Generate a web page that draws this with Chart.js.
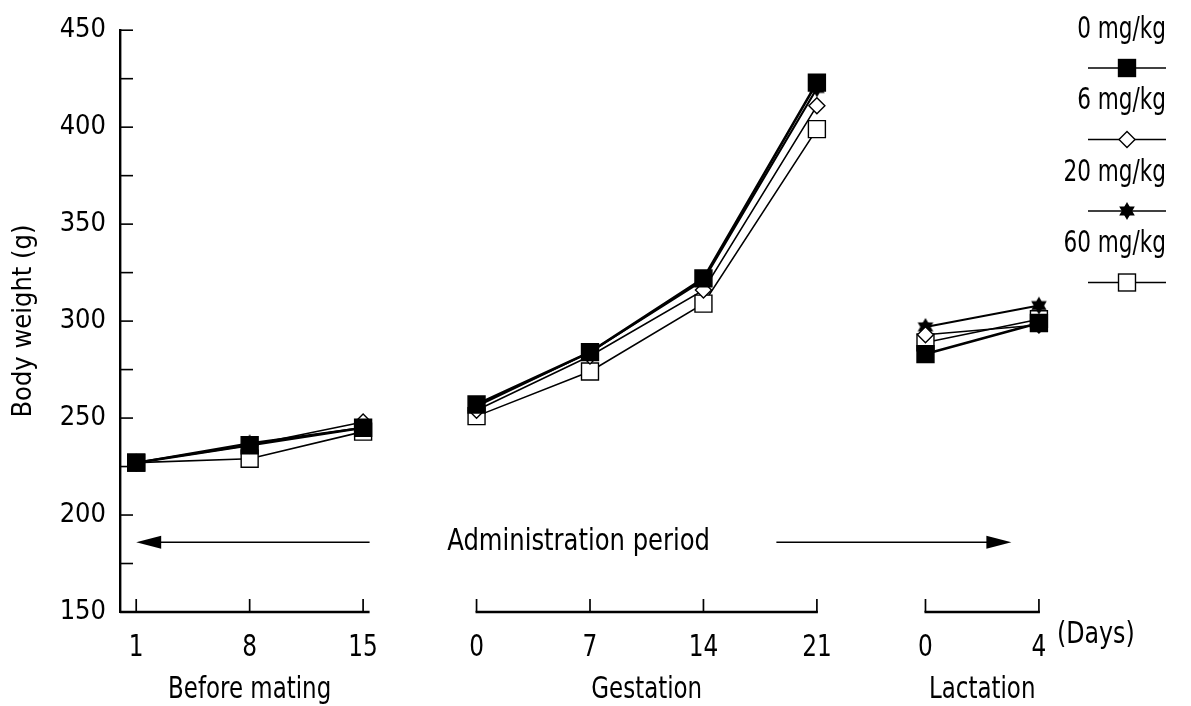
<!DOCTYPE html>
<html>
<head>
<meta charset="utf-8">
<script src="https://cdn.jsdelivr.net/npm/chart.js@4.4.1/dist/chart.umd.min.js"></script>
<style>
  html, body { margin: 0; padding: 0; background: #fff; }
  #wrap { width: 1191px; height: 706px; position: relative; }
</style>
</head>
<body>
<div id="wrap"><canvas id="chart" width="1191" height="706"></canvas></div>
<script>
const doses = ["0 mg/kg", "6 mg/kg", "20 mg/kg", "60 mg/kg"];
const phases = ["Before mating", "Gestation", "Lactation"];
const beforeDays = [1, 8, 15];
const gestDays = [0, 7, 14, 21];
const lactDays = [0, 4];
const yTicks = [150, 200, 250, 300, 350, 400, 450];

// body weight (g) per dose group, per phase
const before0 = [227, 236, 245];
const before6 = [227, 236, 248];
const before20 = [227, 237, 245];
const before60 = [227, 229, 243];
const gest0 = [257, 284, 322, 423];
const gest6 = [254, 282, 316, 411];
const gest20 = [256, 284, 321, 420];
const gest60 = [251, 274, 309, 399];
const lact0 = [283, 299];
const lact6 = [293, 298];
const lact20 = [297, 308];
const lact60 = [289, 301];

// layout of the broken x axis (axis units), not data
const phaseStart = [0, 22, 49.7];
const phaseStretch = [1, 1, 1.75];
const phaseAxisEnd = [15.4, null, null];
const FONT = "'Liberation Sans Narrow', 'DejaVu Sans Condensed', sans-serif";

const $ = (id) => document.getElementById(id);
const xOf = (p, d) => phaseStart[p] + d * phaseStretch[p];

function starCanvas(r) {
  const c = document.createElement("canvas");
  c.width = c.height = r * 2 + 2;
  const g = c.getContext("2d");
  const cx = r + 1, cy = r + 1;
  g.fillStyle = "#000";
  [-Math.PI / 2, Math.PI / 2].forEach(a0 => {
    g.beginPath();
    for (let k = 0; k < 3; k++) {
      const a = a0 + k * 2 * Math.PI / 3;
      g[k ? "lineTo" : "moveTo"](cx + r * Math.cos(a), cy + r * Math.sin(a));
    }
    g.closePath();
    g.fill();
  });
  return c;
}
const star = starCanvas(9);

function series(b, g, l) {
  const pts = [];
  beforeDays.forEach((d, i) => pts.push({ x: xOf(0, d), y: b[i] }));
  pts.push({ x: 18, y: null });
  gestDays.forEach((d, i) => pts.push({ x: xOf(1, d), y: g[i] }));
  pts.push({ x: 46, y: null });
  lactDays.forEach((d, i) => pts.push({ x: xOf(2, d), y: l[i] }));
  return pts;
}

const styles = [
  { pointStyle: "rect", pointRadius: 12, pointBackgroundColor: "#000", borderWidth: 2.6 },
  { pointStyle: "rectRot", pointRadius: 8, pointBackgroundColor: "#fff", borderWidth: 1.6 },
  { pointStyle: star, pointRadius: 9, pointBackgroundColor: "#000", borderWidth: 2 },
  { pointStyle: "rect", pointRadius: 12, pointBackgroundColor: "#fff", borderWidth: 1.6 }
];
const values = [
  series(before0, gest0, lact0),
  series(before6, gest6, lact6),
  series(before20, gest20, lact20),
  series(before60, gest60, lact60)
];

function drawMarker(ctx, st, x, y) {
  ctx.save();
  ctx.lineWidth = 1.4;
  ctx.strokeStyle = "#000";
  ctx.fillStyle = st.pointBackgroundColor;
  if (st.pointStyle === star) {
    ctx.drawImage(star, x - star.width / 2, y - star.height / 2);
  } else if (st.pointStyle === "rectRot") {
    const r = st.pointRadius;
    ctx.beginPath();
    ctx.moveTo(x, y - r); ctx.lineTo(x + r, y); ctx.lineTo(x, y + r); ctx.lineTo(x - r, y);
    ctx.closePath(); ctx.fill(); ctx.stroke();
  } else {
    const s = st.pointRadius * Math.SQRT1_2;
    ctx.fillRect(x - s, y - s, 2 * s, 2 * s);
    ctx.strokeRect(x - s, y - s, 2 * s, 2 * s);
  }
  ctx.restore();
}

// condensed text: squeeze horizontally
function label(ctx, s, x, y, align, sx) {
  ctx.save();
  ctx.translate(x, y);
  ctx.scale(sx, 1);
  ctx.textAlign = align;
  ctx.fillText(s, 0, 0);
  ctx.restore();
}

function arrow(ctx, x0, x1, y) {
  const dir = Math.sign(x1 - x0);
  ctx.beginPath();
  ctx.moveTo(x0, y); ctx.lineTo(x1 - dir * 20, y); ctx.stroke();
  ctx.beginPath();
  ctx.moveTo(x1, y); ctx.lineTo(x1 - dir * 25, y - 6.5); ctx.lineTo(x1 - dir * 25, y + 6.5);
  ctx.closePath(); ctx.fill();
}

const decorations = {
  id: "decorations",
  afterDraw(chart) {
    const { ctx, chartArea } = chart;
    const xs = chart.scales.x, ys = chart.scales.y;
    ctx.save();
    ctx.strokeStyle = "#000";
    ctx.fillStyle = "#000";
    ctx.textBaseline = "middle";

    // inner y ticks every 25 g
    ctx.lineWidth = 1.6;
    for (let v = 150; v <= 450; v += 25) {
      const y = ys.getPixelForValue(v);
      ctx.beginPath(); ctx.moveTo(chartArea.left, y); ctx.lineTo(chartArea.left + 13, y); ctx.stroke();
    }

    // broken x axis
    const yb = chartArea.bottom;
    const dayLists = [beforeDays, gestDays, lactDays];
    ctx.font = `30px ${FONT}`;
    dayLists.forEach((days, p) => {
      const first = xs.getPixelForValue(xOf(p, days[0]));
      const last = xs.getPixelForValue(xOf(p, days[days.length - 1]));
      const startX = p === 0 ? chartArea.left : first - 1;
      const endX = phaseAxisEnd[p] ? xs.getPixelForValue(phaseAxisEnd[p]) : last + 1;
      ctx.lineWidth = 2.4;
      ctx.beginPath(); ctx.moveTo(startX, yb); ctx.lineTo(endX, yb); ctx.stroke();
      ctx.lineWidth = 1.7;
      days.forEach(d => {
        const x = xs.getPixelForValue(xOf(p, d));
        ctx.beginPath(); ctx.moveTo(x, yb); ctx.lineTo(x, yb - 13); ctx.stroke();
        label(ctx, String(d), x, yb + 36, "center", 0.86);
      });
      label(ctx, phases[p], (first + last) / 2, yb + 78, "center", 0.85);
    });
    label(ctx, "(Days)", xs.getPixelForValue(xOf(2, 4)) + 18, yb + 23, "left", 0.88);

    // administration period arrows
    const ya = ys.getPixelForValue(186);
    ctx.lineWidth = 1.5;
    arrow(ctx, xs.getPixelForValue(15.4), xs.getPixelForValue(1), ya);
    arrow(ctx, xs.getPixelForValue(40.5), xs.getPixelForValue(55), ya);
    label(ctx, "Administration period", xs.getPixelForValue(28.3), ya, "center", 0.9);

    // legend at top right
    const lx = 1166;
    doses.forEach((name, i) => {
      const ty = 30 + i * 71.5;
      label(ctx, name, lx, ty, "right", 0.8);
      const sy = ty + 38;
      ctx.lineWidth = 1.4;
      ctx.beginPath(); ctx.moveTo(lx - 78, sy); ctx.lineTo(lx, sy); ctx.stroke();
      drawMarker(ctx, styles[i], lx - 39, sy);
    });
    ctx.restore();
  }
};

Chart.defaults.font.family = FONT;
Chart.defaults.color = "#000";

new Chart($("chart"), {
  type: "line",
  data: {
    datasets: doses.map((name, i) => ({
      label: name,
      data: values[i],
      borderColor: "#000",
      pointBorderColor: "#000",
      pointBorderWidth: 1.4,
      spanGaps: false,
      tension: 0,
      ...styles[i]
    }))
  },
  options: {
    responsive: false,
    animation: false,
    devicePixelRatio: 1,
    layout: { padding: { left: 0, top: 25, right: 131, bottom: 94 } },
    plugins: { legend: { display: false }, tooltip: { enabled: false } },
    scales: {
      x: { type: "linear", min: 0, max: 58, display: false },
      y: {
        min: 150,
        max: 450,
        afterFit: s => { s.width = 120; },
        afterBuildTicks: s => { s.ticks = yTicks.map(v => ({ value: v })); },
        grid: { display: false, drawTicks: false },
        border: { display: true, color: "#000", width: 2.4 },
        ticks: { font: { size: 27 }, padding: 14, color: "#000" },
        title: { display: true, text: "Body weight (g)", font: { size: 27 }, padding: { top: 8, bottom: 0 } }
      }
    }
  },
  plugins: [decorations]
});
</script>
</body>
</html>
